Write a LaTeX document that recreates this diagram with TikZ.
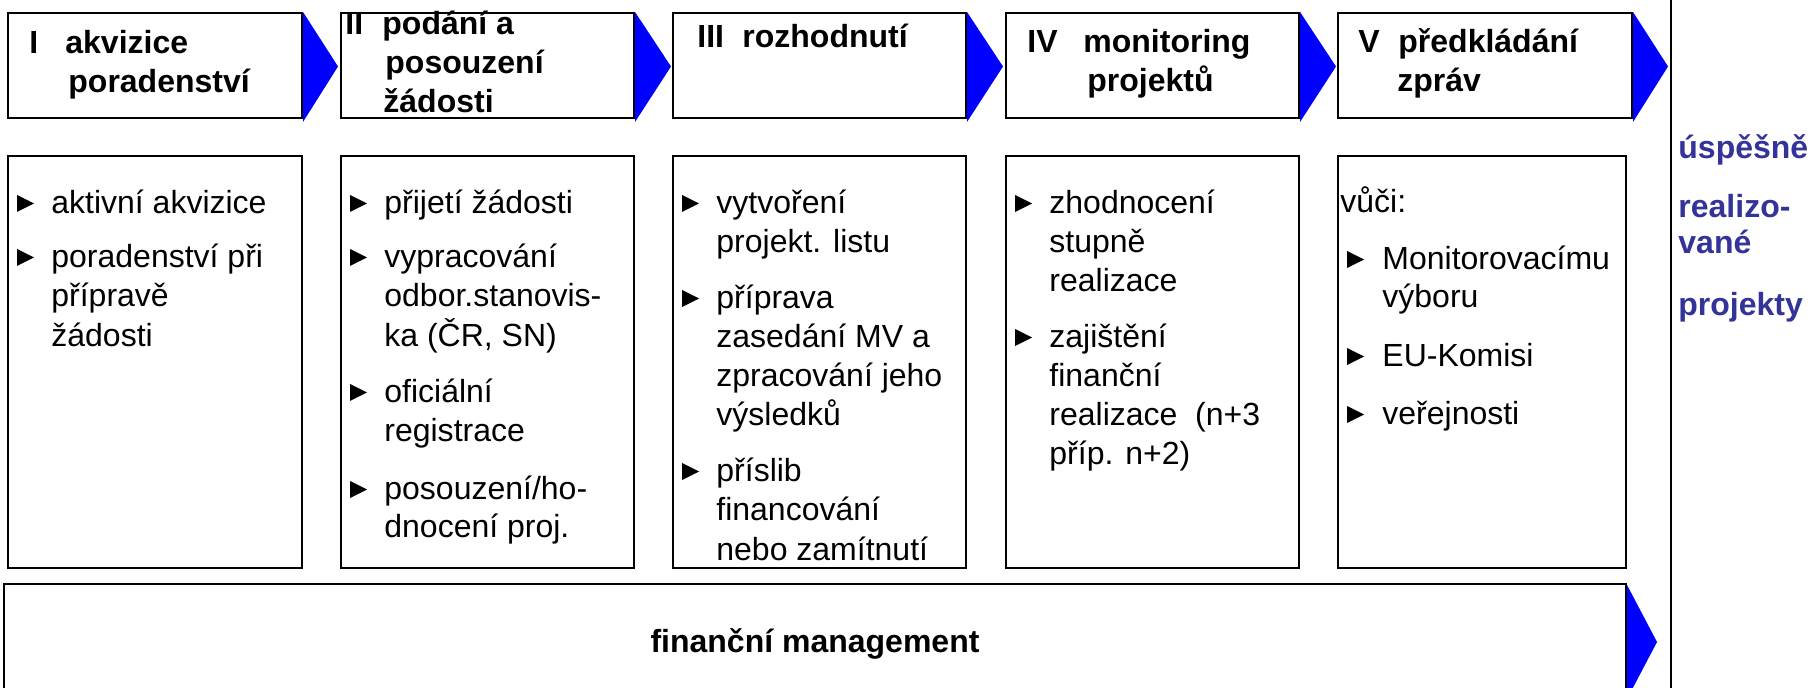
\documentclass[tikz,border=0pt]{standalone}
\usepackage{fontspec}
\setmainfont{Liberation Sans}
\definecolor{arrblue}{RGB}{0,0,255}
\definecolor{rtblue}{RGB}{51,51,153}
\tikzset{
  box/.style={draw=black, line width=1.1pt},
  chev/.style={fill=arrblue, draw=none},
  hd/.style={anchor=base west, inner sep=0pt, font=\fontsize{16}{19.5}\selectfont\bfseries},
  tx/.style={anchor=base west, inner sep=0pt, font=\fontsize{16}{19.5}\selectfont},
  rt/.style={anchor=base west, inner sep=0pt, text=rtblue, font=\fontsize{16}{18}\selectfont\bfseries},
}
\newcommand{\bul}[2]{\fill (#1,#2-2) -- (#1,#2-19) -- (#1+17,#2-10.5) -- cycle;}
\newcommand{\txtline}[4]{\node[tx] (#1) at (#2,#3) {#4};}
\newcommand{\hdline}[4]{\node[hd] (#1) at (#2,#3) {#4};}
\begin{document}
\begin{tikzpicture}[x=0.5pt,y=-0.5pt]
\useasboundingbox (0,0) rectangle (1818,688);
\clip (0,0) rectangle (1818,688);
\fill[white] (0,0) rectangle (1818,688);

% header boxes
\draw[box] (8,13) rectangle (302,118);
\draw[box] (341,13) rectangle (634,118);
\draw[box] (673,13) rectangle (966,118);
\draw[box] (1006,13) rectangle (1299,118);
\draw[box] (1338,13) rectangle (1632,118);
% chevrons
\fill[chev] (303,12) -- (338,66.5) -- (303,122) -- cycle;
\fill[chev] (635,12) -- (671,66.5) -- (635,122) -- cycle;
\fill[chev] (967,12) -- (1003,66.5) -- (967,122) -- cycle;
\fill[chev] (1300,12) -- (1336,66.5) -- (1300,122) -- cycle;
\fill[chev] (1633,12) -- (1668,66.5) -- (1633,122) -- cycle;

% lower boxes
\draw[box] (8,156) rectangle (302,568);
\draw[box] (341,156) rectangle (634,568);
\draw[box] (673,156) rectangle (966,568);
\draw[box] (1006,156) rectangle (1299,568);
\draw[box] (1338,156) rectangle (1626,568);

% bottom box
\draw[box] (4,584) rectangle (1626,720);
\fill[chev] (1627,585) -- (1657,642) -- (1627,699) -- cycle;

% vertical line
\draw[line width=1.1pt] (1671,-5) -- (1671,700);

% header texts
\hdline{h1a}{29}{54}{I}
\hdline{h1b}{65}{54}{akvizice}
\hdline{h1c}{68}{93}{poradenství}
\hdline{h2a}{345}{35}{II}
\hdline{h2b}{382}{35}{podání a}
\hdline{h2c}{385}{74}{posouzení}
\hdline{h2d}{383}{113}{žádosti}
\hdline{h3a}{697}{48}{III}
\hdline{h3b}{742}{48}{rozhodnutí}
\hdline{h4a}{1027}{53}{IV}
\hdline{h4b}{1083}{53}{monitoring}
\hdline{h4c}{1087}{92}{projektů}
\hdline{h5a}{1358}{53}{V}
\hdline{h5b}{1398}{53}{předkládání}
\hdline{h5c}{1397}{92}{zpráv}

% box I
\bul{17}{214}\txtline{t1a}{51}{214}{aktivní akvizice}
\bul{17}{268}\txtline{t1b}{51}{268}{poradenství při}
\txtline{t1c}{51}{307}{přípravě}
\txtline{t1d}{51}{347}{žádosti}

% box II
\bul{350}{214}\txtline{t2a}{384}{214}{přijetí žádosti}
\bul{350}{268}\txtline{t2b}{384}{268}{vypracování}
\txtline{t2c}{384}{307}{odbor.stanovis-}
\txtline{t2d}{384}{347}{ka (ČR, SN)}
\bul{350}{403}\txtline{t2e}{384}{403}{oficiální}
\txtline{t2f}{384}{442}{registrace}
\bul{350}{500}\txtline{t2g}{384}{500}{posouzení/ho-}
\txtline{t2h}{384}{538}{dnocení proj.}

% box III
\bul{682}{214}\txtline{t3a}{716}{214}{vytvoření}
\txtline{t3b}{716}{253}{projekt. listu}
\bul{682}{309}\txtline{t3c}{716}{309}{příprava}
\txtline{t3d}{716}{348}{zasedání MV a}
\txtline{t3e}{716}{387}{zpracování jeho}
\txtline{t3f}{716}{426}{výsledků}
\bul{682}{482}\txtline{t3g}{716}{482}{příslib}
\txtline{t3h}{716}{521}{financování}
\txtline{t3i}{716}{560}{nebo zamítnutí}

% box IV
\bul{1015}{214}\txtline{t4a}{1049}{214}{zhodnocení}
\txtline{t4b}{1049}{253}{stupně}
\txtline{t4c}{1049}{292}{realizace}
\bul{1015}{348}\txtline{t4d}{1049}{348}{zajištění}
\txtline{t4e}{1049}{387}{finanční}
\txtline{t4f}{1049}{426}{realizace~~(n+3}
\txtline{t4g}{1049}{465}{příp. n+2)}

% box V
\txtline{t5a}{1340}{213}{vůči:}
\bul{1347}{270}\txtline{t5b}{1382}{270}{Monitorovacímu}
\txtline{t5c}{1382}{308}{výboru}
\bul{1347}{367}\txtline{t5d}{1382}{367}{EU-Komisi}
\bul{1347}{425}\txtline{t5e}{1382}{425}{veřejnosti}

% bottom text
\node[hd, anchor=base] (fin) at (815,652) {finanční management};

% right text
\node[rt] (r1) at (1678,159) {úspěšně};
\node[rt] (r2) at (1678,218) {realizo-};
\node[rt] (r3) at (1678,254) {vané};
\node[rt] (r4) at (1678,316) {projekty};
\end{tikzpicture}
\end{document}
